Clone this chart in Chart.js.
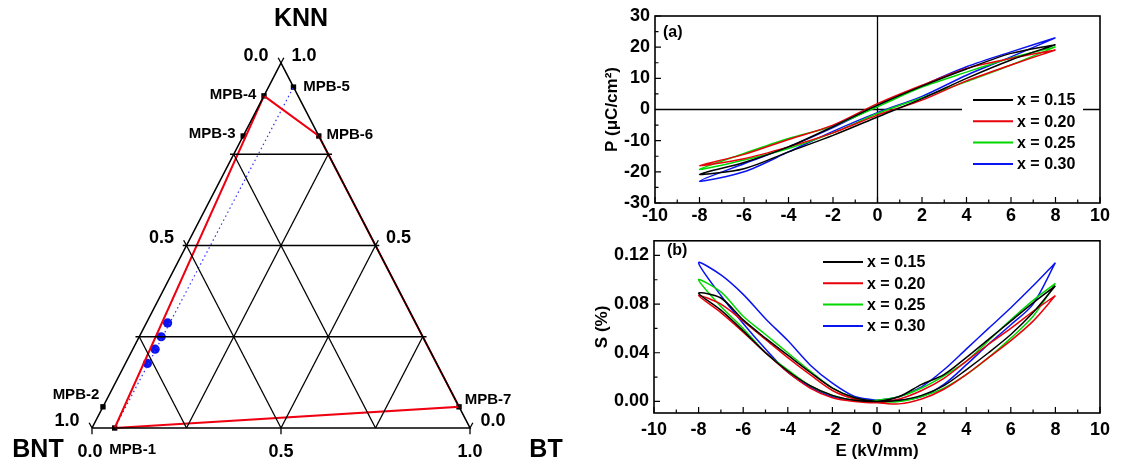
<!DOCTYPE html>
<html>
<head>
<meta charset="utf-8">
<script src="https://cdn.jsdelivr.net/npm/chart.js@4.4.1/dist/chart.umd.min.js"></script>
<style>
body{margin:0;background:#fff;width:1127px;height:468px;overflow:hidden;position:relative}
canvas{position:absolute}
</style>
</head>
<body>
<canvas id="tern" width="590" height="468" style="left:0;top:0"></canvas>
<canvas id="pe" width="537" height="225" style="left:590px;top:0"></canvas>
<canvas id="se" width="537" height="243" style="left:590px;top:225px"></canvas>
<script>
const fam = "'Liberation Sans', Arial, sans-serif";
Chart.defaults.font.family = fam;
Chart.defaults.color = '#000';

// ---- ternary diagram (fractions of KNN and BT, BNT is the rest) ----
const mpbNames = ['MPB-1','MPB-2','MPB-3','MPB-4','MPB-5','MPB-6','MPB-7'];
const mpbKNN   = [0.00, 0.058, 0.80, 0.91, 0.934, 0.80, 0.058];
const mpbBT    = [0.06, 0.00,  0.00, 0.00, 0.066, 0.20, 0.942];
const boundary = ['MPB-1','MPB-4','MPB-6','MPB-7','MPB-1'];
const dotLine  = ['MPB-1','MPB-5'];
const sampleKNN = [0.288, 0.250, 0.216, 0.177];
const sampleBT  = [0.056, 0.058, 0.059, 0.058];
const gridFracs = [0.25, 0.5, 0.75];
const axisTicks = [0, 0.5, 1];

// ---- loops ----
const xLabels = ['x = 0.15','x = 0.20','x = 0.25','x = 0.30'];
const colors  = ['#000000','#e8000b','#00d800','#0a14f0'];

// P-E: field goes 8 -> -8 -> 8 kV/mm
const peE    = [8,6,4,2,0,-2,-4,-6,-8,-6,-4,-2,0,2,4,6,8];
const peP015 = [20.8,18,13,7.5,1.4,-5.5,-12,-17,-20.8,-19,-13.6,-8.3,-2.4,3.5,10,15.9,20.8];
const peP020 = [19.1,16.4,13.2,7.8,1.9,-5,-9.6,-14.4,-18,-15.8,-12,-7.5,-1.8,3,9.2,14.3,19.1];
const peP025 = [20.1,16.5,12,7.2,0.9,-5.3,-9.3,-14.1,-19.2,-16.2,-12.5,-7.5,-1.3,3.8,9,14.3,20.1];
const peP030 = [23,18.5,13.7,7.6,1.2,-5.8,-12,-17.4,-23,-20,-13.6,-7,-1,4.2,11,16.9,23];
const peTicksY = [-30,-20,-10,0,10,20,30];

// S-E: field goes 8 -> -8 -> 8 kV/mm in 1 kV/mm steps
const seE = [8,7,6,5,4,3,2,1,0,-1,-2,-3,-4,-5,-6,-7,-8,-7,-6,-5,-4,-3,-2,-1,0,1,2,3,4,5,6,7,8];
const seS015 = [0.095,0.081,0.066,0.051,0.036,0.022,0.014,0.004, 0,
                0.001,0.005,0.013,0.025,0.040,0.058,0.075,0.089,
                0.085,0.067,0.052,0.038,0.024,0.011,0.003, 0,
                0.001,0.005,0.013,0.026,0.040,0.055,0.073,0.095];
const seS020 = [0.087,0.074,0.060,0.047,0.033,0.019,0.009,0.002, -0.001,
                0.000,0.003,0.011,0.024,0.040,0.057,0.073,0.087,
                0.080,0.066,0.051,0.036,0.022,0.009,0.002, -0.001,
                -0.002,0.002,0.010,0.022,0.036,0.050,0.066,0.087];
const seS025 = [0.097,0.083,0.067,0.050,0.033,0.021,0.011,0.004, 0.001,
                0.001,0.005,0.013,0.026,0.040,0.060,0.078,0.100,
                0.090,0.070,0.055,0.040,0.025,0.011,0.003, 0,
                0.000,0.004,0.011,0.022,0.036,0.052,0.070,0.097];
const seS030 = [0.114,0.095,0.077,0.060,0.043,0.026,0.012,0.004, 0.001,
                0.001,0.004,0.012,0.024,0.043,0.064,0.087,0.114,
                0.104,0.088,0.068,0.050,0.030,0.015,0.004, 0.001,
                0.001,0.004,0.014,0.030,0.047,0.063,0.080,0.114];
const seTicksY = [0, 0.04, 0.08, 0.12];

// ternary -> cartesian
function tp(knn, bt) { return {x: bt + knn / 2, y: knn}; }
function mpb(name) { const i = mpbNames.indexOf(name); return tp(mpbKNN[i], mpbBT[i]); }

function seg(pts, color, width, dash) {
  return {data: pts, showLine: true, borderColor: color, borderWidth: width, borderDash: dash || [],
          pointRadius: 0, tension: 0, clip: false};
}

const ternSets = [];
// grid lines
gridFracs.forEach(v => {
  ternSets.push(seg([tp(v, -0.01), tp(v, 1 - v + 0.01)], '#000', 1.3));
  ternSets.push(seg([tp(0, v), tp(1 - v, v)], '#000', 1.3));
  ternSets.push(seg([tp(0, 1 - v), tp(1 - v, 0)], '#000', 1.3));
});
// outline
ternSets.push(seg([tp(0, 0), tp(0, 1), tp(1, 0), tp(0, 0)], '#000', 1.6));
// ticks
axisTicks.forEach(k => {
  const l = tp(k, 0), r = tp(k, 1 - k), b = tp(0, k);
  ternSets.push(seg([l, {x: l.x - 0.0075, y: l.y + 0.0145}], '#000', 1.3));
  ternSets.push(seg([r, {x: r.x + 0.0075, y: r.y + 0.0145}], '#000', 1.3));
  ternSets.push(seg([b, {x: b.x, y: b.y - 0.017}], '#000', 1.3));
});
// MPB boundary and composition line
ternSets.push(seg(boundary.map(mpb), '#ee0010', 2));
ternSets.push(seg(dotLine.map(mpb), '#3030ff', 1.2, [1.5, 3]));
// markers
ternSets.push({data: mpbNames.map(mpb), pointStyle: 'rect', pointRadius: 3.8, backgroundColor: '#000',
               borderColor: '#000', borderWidth: 0, showLine: false, clip: false});
ternSets.push({data: sampleKNN.map((k, i) => tp(k, sampleBT[i])), pointRadius: 4.6, backgroundColor: '#0a14f0',
               borderColor: '#0a14f0', borderWidth: 0, showLine: false, clip: false});

const ternText = {
  id: 'ternText',
  afterDatasetsDraw(chart) {
    const {ctx, scales: {x, y}} = chart;
    ctx.save();
    ctx.fillStyle = '#000';
    ctx.textAlign = 'center';
    ctx.textBaseline = 'middle';
    const put = (p, dx, dy, txt, size) => {
      ctx.font = 'bold ' + size + 'px ' + fam;
      ctx.fillText(txt, x.getPixelForValue(p.x) + dx, y.getPixelForValue(p.y) + dy);
    };
    put(tp(1, 0), 20, -44, 'KNN', 25);
    put(tp(0, 0), -54, 22, 'BNT', 25);
    put(tp(0, 1), 76, 22, 'BT', 25);
    axisTicks.forEach(k => {
      put(tp(k, 0), -25, -7, (1 - k).toFixed(1), 18);
      put(tp(k, 1 - k), 23, -7, k.toFixed(1), 18);
      put(tp(0, k), k === 0 ? -2 : 0, 24, k.toFixed(1), 18);
    });
    // label offsets for MPB points
    const offs = {'MPB-1': [18, 22], 'MPB-2': [-27, -12], 'MPB-3': [-31, -2], 'MPB-4': [-31, -1],
                  'MPB-5': [33, 0], 'MPB-6': [31, -1], 'MPB-7': [29, -7]};
    mpbNames.forEach(n => put(mpb(n), offs[n][0], offs[n][1], n, 15));
    ctx.restore();
  }
};

new Chart(document.getElementById('tern'), {
  type: 'scatter',
  data: {datasets: ternSets},
  options: {
    responsive: false, animation: false,
    layout: {padding: {left: 92, right: 120, top: 63, bottom: 40}},
    plugins: {legend: {display: false}, tooltip: {enabled: false}},
    scales: {x: {type: 'linear', min: 0, max: 1, display: false}, y: {type: 'linear', min: 0, max: 1, display: false}}
  },
  plugins: [ternText]
});

// ---- frame, inward ticks, legend for the loop panels ----
const framePlugin = {
  id: 'frame',
  beforeDatasetsDraw(chart, args, opts) {
    const {ctx, chartArea: a, scales: {x, y}} = chart;
    ctx.save();
    if (opts.zeroLines) {
      ctx.strokeStyle = '#000'; ctx.lineWidth = 1.3;
      ctx.beginPath();
      ctx.moveTo(x.getPixelForValue(0), a.top); ctx.lineTo(x.getPixelForValue(0), a.bottom);
      ctx.moveTo(a.left, y.getPixelForValue(0)); ctx.lineTo(a.right, y.getPixelForValue(0));
      ctx.stroke();
    }
    if (opts.legendBox) {
      const b = opts.legendBox;
      ctx.fillStyle = '#fff';
      ctx.fillRect(b[0], b[1], b[2], b[3]);
    }
    ctx.restore();
  },
  afterDatasetsDraw(chart, args, opts) {
    const {ctx, chartArea: a, scales: {x, y}} = chart;
    ctx.save();
    ctx.strokeStyle = '#000';
    ctx.lineWidth = 1.2;
    ctx.beginPath();
    for (let v = x.min; v <= x.max + 1e-9; v += opts.xMinor) {
      const px = x.getPixelForValue(v);
      const major = Math.abs(v / opts.xMajor - Math.round(v / opts.xMajor)) < 1e-6;
      ctx.moveTo(px, a.bottom); ctx.lineTo(px, a.bottom - (major ? 6 : 3.5));
    }
    for (let v = opts.yStart; v <= y.max + 1e-9; v += opts.yMinor) {
      const py = y.getPixelForValue(v);
      const major = Math.abs(v / opts.yMajor - Math.round(v / opts.yMajor)) < 1e-6;
      ctx.moveTo(a.left, py); ctx.lineTo(a.left + (major ? 6 : 3.5), py);
    }
    ctx.stroke();
    ctx.lineWidth = 1.6;
    ctx.strokeRect(a.left, a.top, a.right - a.left, a.bottom - a.top);

    // legend
    const lg = opts.legend;
    ctx.font = 'bold 16px ' + fam;
    ctx.textBaseline = 'middle';
    ctx.fillStyle = '#000';
    chart.data.datasets.forEach((ds, i) => {
      const yy = lg.y + i * lg.gap;
      ctx.strokeStyle = ds.borderColor; ctx.lineWidth = 2;
      ctx.beginPath(); ctx.moveTo(lg.x, yy); ctx.lineTo(lg.x + lg.len, yy); ctx.stroke();
      ctx.fillText(ds.label, lg.x + lg.len + 4, yy + 1);
    });
    ctx.font = 'bold 16px ' + fam;
    ctx.fillText(opts.panel[0], opts.panel[1], opts.panel[2]);
    ctx.restore();
  }
};

function loopSets(E, series) {
  return series.map((vals, i) => ({
    label: xLabels[i],
    data: E.map((e, k) => ({x: e, y: vals[k]})),
    showLine: true, borderColor: colors[i], borderWidth: 1.5, pointRadius: 0, tension: 0.3, fill: false
  }));
}

const tickFont = {size: 18, weight: 'bold'};
const titleFont = {size: 17, weight: 'bold'};

new Chart(document.getElementById('pe'), {
  type: 'scatter',
  data: {datasets: loopSets(peE, [peP015, peP020, peP025, peP030])},
  options: {
    responsive: false, animation: false,
    layout: {padding: {top: 16, right: 27, left: 0, bottom: 0}},
    plugins: {
      legend: {display: false}, tooltip: {enabled: false},
      frame: {xMinor: 1, xMajor: 2, yStart: -30, yMinor: 5, yMajor: 10, zeroLines: true,
              legendBox: [372, 90, 121, 84],
              legend: {x: 383, y: 100, gap: 21.3, len: 40}, panel: ['(a)', 73, 33]}
    },
    scales: {
      x: {type: 'linear', min: -10, max: 10, ticks: {stepSize: 2, font: tickFont, padding: 2},
          grid: {display: false, drawTicks: false}, border: {display: false},
          afterFit(s) { s.height = 22; }},
      y: {type: 'linear', min: -30, max: 30,
          afterBuildTicks(s) { s.ticks = peTicksY.map(v => ({value: v})); },
          ticks: {font: tickFont, padding: 5},
          grid: {display: false, drawTicks: false}, border: {display: false},
          title: {display: true, text: 'P (μC/cm²)', font: titleFont, padding: {top: 12, bottom: 0}},
          afterFit(s) { s.width = 65; }}
    }
  },
  plugins: [framePlugin]
});

new Chart(document.getElementById('se'), {
  type: 'scatter',
  data: {datasets: loopSets(seE, [seS015, seS020, seS025, seS030])},
  options: {
    responsive: false, animation: false,
    layout: {padding: {top: 8, right: 27, left: 0, bottom: 0}},
    plugins: {
      legend: {display: false}, tooltip: {enabled: false},
      frame: {xMinor: 1, xMajor: 2, yStart: 0, yMinor: 0.02, yMajor: 0.04, zeroLines: false,
              legend: {x: 233, y: 37, gap: 21.3, len: 40}, panel: ['(b)', 77, 26]}
    },
    scales: {
      x: {type: 'linear', min: -10, max: 10, ticks: {stepSize: 2, font: tickFont, padding: 6},
          grid: {display: false, drawTicks: false}, border: {display: false},
          title: {display: true, text: 'E (kV/mm)', font: titleFont, padding: {top: 0, bottom: 6}},
          afterFit(s) { s.height = 55; }},
      y: {type: 'linear', min: -0.0095, max: 0.132,
          afterBuildTicks(s) { s.ticks = seTicksY.map(v => ({value: v})); },
          ticks: {font: tickFont, padding: 5, callback: v => v.toFixed(2)},
          grid: {display: false, drawTicks: false}, border: {display: false},
          title: {display: true, text: 'S (%)', font: titleFont, padding: {top: 2, bottom: 0}},
          afterFit(s) { s.width = 64; }}
    }
  },
  plugins: [framePlugin]
});
</script>
</body>
</html>
